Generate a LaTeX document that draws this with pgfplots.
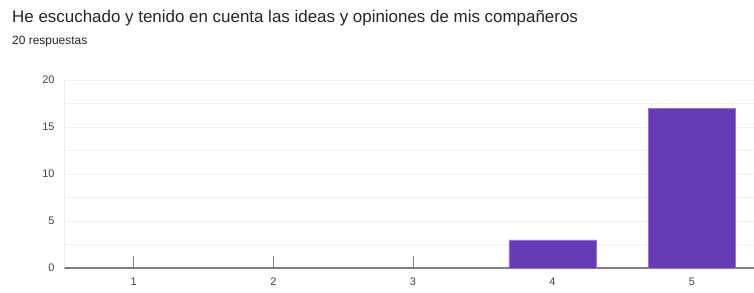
\documentclass[border=0pt]{standalone}
\usepackage{pgfplots}
\pgfplotsset{compat=1.18}
\usepackage{fontspec}
\setmainfont{Liberation Sans}
\definecolor{barc}{HTML}{673AB7}
\definecolor{gridc}{HTML}{EEEEEE}
\definecolor{txt}{HTML}{444444}
\begin{document}
\begin{tikzpicture}[x=1bp,y=1bp]
\useasboundingbox (0,0) rectangle (754,292);
\node[anchor=base west,inner sep=0,font=\fontsize{17}{20}\selectfont,text=black!85] at (12,270) {He escuchado y tenido en cuenta las ideas y opiniones de mis compañeros};
\node[anchor=base west,inner sep=0,font=\fontsize{12}{14}\selectfont,text=black!85] at (12,248) {20 respuestas};
\begin{axis}[
  at={(64bp,24bp)}, anchor=south west,
  scale only axis, width=690bp, height=188bp,
  xmin=0.5, xmax=5.445, ymin=0, ymax=20,
  clip=false,
  axis lines*=left,
  x axis line style={draw=gray, line width=1.5pt, -},
  y axis line style={draw=gridc, line width=0.8pt, -},
  xtick={1,2,3,4,5},
  ytick={0,5,10,15,20},
  minor ytick={2.5,7.5,12.5,17.5},
  ymajorgrids, yminorgrids,
  major grid style={gridc, line width=0.8pt},
  minor grid style={gridc, line width=0.8pt},
  major tick length=0bp,
  minor tick length=0bp,
  ticklabel style={font=\fontsize{11}{13}\selectfont, text=txt},
  xticklabel style={yshift=-6bp},
  yticklabel style={xshift=-6bp},
  /pgf/number format/assume math mode=true,
  ybar, bar width=87bp,
]
\draw[gray, line width=0.7pt] (axis cs:1,0) -- (axis cs:1,1.3);
\draw[gray, line width=0.7pt] (axis cs:2,0) -- (axis cs:2,1.3);
\draw[gray, line width=0.7pt] (axis cs:3,0) -- (axis cs:3,1.3);
\addplot[fill=barc, draw=barc!70!white, line width=0.5pt, bar shift=0pt] coordinates {(4,3) (5,17)};
\end{axis}
\end{tikzpicture}
\end{document}
